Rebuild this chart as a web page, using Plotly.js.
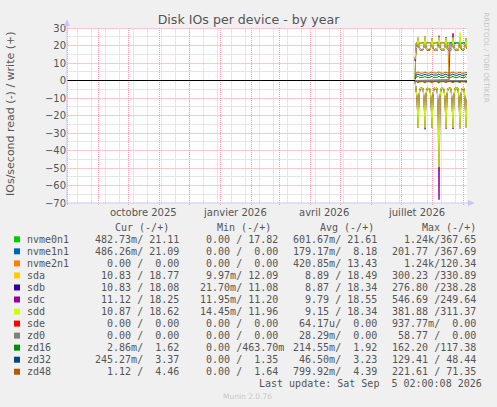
<!DOCTYPE html>
<html>
<head>
<meta charset="utf-8">
<script src="https://cdn.plot.ly/plotly-3.0.1.min.js"></script>
<style>
html, body { margin: 0; padding: 0; background: #f0f0f0; }
#chart { width: 497px; height: 407px; }
#chart .layer-below .shapelayer path, #chart .zerolinelayer path { shape-rendering: crispEdges; }
</style>
</head>
<body>
<div id="chart"></div>
<script>
// daily points, 15 juillet -> 5 septembre 2026
let days = ['2026-07-15','2026-07-16','2026-07-17','2026-07-18','2026-07-19','2026-07-20','2026-07-21','2026-07-22','2026-07-23','2026-07-24',
  '2026-07-25','2026-07-26','2026-07-27','2026-07-28','2026-07-29','2026-07-30','2026-07-31','2026-08-01','2026-08-02','2026-08-03',
  '2026-08-04','2026-08-05','2026-08-06','2026-08-07','2026-08-08','2026-08-09','2026-08-10','2026-08-11','2026-08-12','2026-08-13',
  '2026-08-14','2026-08-15','2026-08-16','2026-08-17','2026-08-18','2026-08-19','2026-08-20','2026-08-21','2026-08-22','2026-08-23',
  '2026-08-24','2026-08-25','2026-08-26','2026-08-27','2026-08-28','2026-08-29','2026-08-30','2026-08-31','2026-09-01','2026-09-02',
  '2026-09-03','2026-09-04','2026-09-05'];

// reads (drawn below zero) and writes (above zero), IOs/second
let nvme0n1R = [0.1,0.6,0.7,0.9,0.6,0.5,0.6,0.5,0.6,0.7, 0.9,0.6,0.5,0.6,0.5,0.6,0.7,0.8,0.6,0.5, 0.6,0.5,0.6,0.7,1.1,0.6,0.5,0.6,0.5,0.6, 0.7,0.9,0.6,0.5,0.6,0.5,0.6,0.7,0.8,0.6, 0.5,0.6,0.5,0.6,0.7,0.9,0.6,0.5,0.6,0.5, 0.7,0.8,0.5];
let nvme0n1W = [1.3,21.4,21.6,21.9,21.5,21.3,21.6,21.4,21.7,21.5, 21.8,21.6,21.3,21.5,21.7,21.4,21.6,21.9,21.5,21.3, 21.6,21.4,21.7,21.5,22.0,21.6,21.4,21.5,21.7,21.3, 21.6,21.8,21.5,21.4,21.6,21.5,21.7,21.4,21.8,21.6, 21.3,21.5,21.7,21.4,21.6,21.9,21.5,21.3,21.4,21.6, 21.5,21.8,21.1];
let nvme1n1R = [0,0,0,0,0,0,0,0,0,0, 0,0,0,0,0,0,0,0,0,0, 0,0,0,0,0,0,0,0,0,0, 0,0,0,0,0.1,0.5,0.4,0.5,0.6,0.5, 0.4,0.5,0.5,0.4,0.6,0.5,0.4,0.5,0.5,0.4, 0.5,0.6,0.5];
let nvme1n1W = [0,0,0,0,0,0,0,0,0,0, 0,0,0,0,0,0,0,0,0,0, 0,0,0,0,0,0,0,0,0,0, 0,0,0,0,0.4,21.3,21.6,21.2,21.5,21.4, 21.1,21.3,21.6,21.2,21.4,21.5,21.3,21.2,21.6,21.4, 21.3,21.5,21.1];
let nvme2n1R = [0.1,0.6,0.7,0.8,0.6,0.5,0.6,0.5,0.6,0.7, 0.8,0.6,0.5,0.6,0.5,0.6,0.7,0.8,0.6,0.5, 0.6,0.5,0.6,0.7,0.9,0.6,0.5,0.6,0.5,0.6, 0.7,0.8,0.6,0.5,0,0,0,0,0,0, 0,0,0,0,0,0,0,0,0,0, 0,0,0];
let nvme2n1W = [1.5,21.2,21.5,21.8,21.4,21.2,21.5,21.3,21.6,21.4, 21.7,21.5,21.2,21.4,21.6,21.3,21.5,21.8,21.4,21.2, 21.5,21.3,21.6,21.4,21.9,21.5,21.3,21.4,21.6,21.2, 21.5,21.7,21.4,21.3,0,0,0,0,0,0, 0,0,0,0,0,0,0,0,0,0, 0,0,0];
let sdaR = [0.5,4.6,10.2,26.5,8.4,4.7,4.3,4.8,4.5,10.7, 27.1,8.0,4.4,4.7,4.5,4.9,11.3,26.8,8.6,4.4, 4.6,4.8,4.3,12.5,46.2,9.3,4.7,4.5,4.4,4.9, 10.9,27.3,8.1,4.5,4.6,4.2,4.8,11.1,26.9,8.5, 4.3,4.6,4.7,4.4,10.6,27.2,8.2,4.5,4.8,4.4, 10.9,26.4,10.8];
let sdaW = [12.1,18.3,19.6,24.1,19.0,17.6,17.9,17.3,17.8,19.4, 24.6,18.7,17.5,17.8,17.2,17.9,19.8,23.9,18.5,17.4, 17.6,17.9,17.3,20.1,25.3,18.9,17.7,17.5,17.9,17.4, 19.7,24.4,18.6,17.6,17.3,17.8,17.5,19.9,24.8,18.8, 17.6,17.4,17.9,17.2,19.5,24.2,18.4,17.7,17.5,17.8, 19.6,24.0,18.8];
let sdbR = [0.3,4.4,9.8,25.9,8.1,4.5,4.2,4.6,4.3,10.3, 26.6,7.8,4.3,4.5,4.4,4.7,10.9,26.2,8.3,4.2, 4.5,4.6,4.2,12.1,44.8,9.0,4.5,4.4,4.3,4.7, 10.5,26.8,7.9,4.4,4.5,4.1,4.6,10.8,26.3,8.2, 4.2,4.4,4.5,4.3,10.2,26.7,8.0,4.4,4.6,4.3, 10.6,25.8,10.8];
let sdbW = [11.1,17.9,19.2,23.6,18.7,17.3,17.6,17.0,17.5,19.0, 24.0,18.4,17.2,17.5,16.9,17.6,19.4,23.5,18.2,17.1, 17.3,17.6,17.0,19.7,24.8,18.6,17.4,17.2,17.6,17.1, 19.3,23.9,18.3,17.3,17.0,17.5,17.2,19.5,24.3,18.5, 17.3,17.1,17.6,16.9,19.1,23.8,18.1,17.4,17.2,17.5, 19.2,23.6,18.1];
let sdcR = [0.4,4.8,10.5,26.9,8.6,4.9,4.5,5.0,4.7,11.0, 27.9,8.3,4.6,4.9,4.7,5.1,11.6,27.0,8.8,4.6, 4.8,5.0,4.5,13.4,68.1,9.7,4.9,4.7,4.6,5.1, 11.2,27.5,8.3,4.7,4.8,4.4,5.0,11.4,27.8,8.7, 4.5,4.8,4.9,4.6,10.9,27.4,8.4,4.7,5.0,4.6, 11.2,26.8,11.1];
let sdcW = [11.2,18.1,19.8,24.5,19.2,17.8,18.0,17.5,17.9,19.7, 25.1,18.9,17.7,18.0,17.4,18.1,20.0,24.3,18.7,17.6, 17.8,18.1,17.5,20.4,25.6,19.1,17.9,17.7,18.1,17.6, 19.9,24.7,18.8,17.8,17.5,18.0,17.7,20.3,27.0,19.0, 17.8,17.6,18.1,17.4,19.8,24.6,18.6,17.9,17.7,18.0, 19.8,24.3,18.3];
let sddR = [0.4,4.6,10.1,26.7,8.3,4.6,4.4,4.8,4.5,10.6, 27.0,8.1,4.4,4.6,4.5,4.8,11.2,26.9,8.5,4.4, 4.6,4.7,4.3,12.8,49.5,9.2,4.6,4.5,4.4,4.8, 10.8,27.1,8.0,4.5,4.6,4.2,4.7,11.0,27.0,8.4, 4.3,4.5,4.6,4.4,10.5,27.3,8.1,4.5,4.7,4.4, 10.8,26.6,10.9];
let sddW = [12.0,18.2,19.5,24.3,19.1,17.5,17.8,17.2,17.7,19.3, 24.8,18.6,17.4,17.7,17.1,17.8,19.6,24.1,18.4,17.3, 17.5,17.8,17.2,20.0,25.0,18.8,17.6,17.4,17.8,17.3, 19.6,24.3,18.5,17.5,17.2,17.7,17.4,19.8,24.6,18.7, 17.5,17.3,17.8,17.1,19.9,27.4,18.3,17.6,17.4,17.7, 19.5,24.1,18.6];
let sdeR = [0,0,0,0,0,0,0,0,0,0, 0,0,0,0,0,0,0,0,0,0, 0,0,0,0,0,0,0,0,0,0, 0,0,0,0,0,0,0,0,0,0, 0,0,0,0,0,0,0,0,0,0, 0,0,0];
let sdeW = sdeR;
let zd0R = sdeR;
let zd0W = sdeR;
let zd16R = [0.0,0.2,0.3,0.4,0.2,0.1,0.2,0.1,0.2,0.3, 0.4,0.2,0.1,0.2,0.1,0.2,0.3,0.4,0.2,0.1, 0.2,0.1,0.2,0.3,0.5,0.2,0.1,0.2,0.1,0.2, 0.3,0.4,0.2,0.1,0.2,0.1,0.2,0.3,0.4,0.2, 0.1,0.2,0.1,0.2,0.3,0.4,0.2,0.1,0.2,0.1, 0.3,0.4,0.0];
let zd16W = [0.5,1.9,2.1,2.4,1.8,1.7,1.9,1.6,1.8,2.0, 2.3,1.9,1.7,1.8,1.6,1.9,2.0,2.4,1.8,1.7, 1.9,1.6,1.8,2.1,2.5,1.9,1.7,1.8,1.6,1.9, 2.0,2.3,1.8,1.7,1.9,1.6,1.8,2.1,2.4,1.9, 1.7,1.8,1.6,1.9,2.0,2.3,1.8,1.7,1.9,1.6, 2.0,2.2,1.6];
let zd32R = [0,0,0.1,0.1,0,0,0,0,0,0.1, 0.1,0,0,0,0,0,0.1,0.1,0,0, 0,0,0,0.1,0.2,0,0,0,0,0, 0.1,0.1,0,0,0,0,0,0.1,0.1,0, 0,0,0,0,0.1,0.1,0,0,0,0, 0.1,0.1,0.2];
let zd32W = [0.8,3.1,3.4,3.7,3.2,3.0,3.2,2.9,3.1,3.3, 3.6,3.2,3.0,3.1,2.9,3.2,3.4,3.7,3.1,3.0, 3.2,2.9,3.1,3.4,3.8,3.2,3.0,3.1,2.9,3.2, 3.3,3.6,3.1,3.0,3.2,2.9,3.1,3.4,3.7,3.2, 3.0,3.1,2.9,3.2,3.3,3.6,3.1,3.0,3.2,2.9, 3.3,3.5,3.4];
let zd48R = [0.2,0.7,0.9,1.2,0.8,0.6,0.7,0.6,0.7,0.9, 1.3,0.8,0.6,0.7,0.6,0.7,0.9,1.2,0.8,0.6, 0.7,0.6,0.7,1.0,1.5,0.8,0.6,0.7,0.6,0.7, 0.9,1.2,0.8,0.6,0.7,0.6,0.7,0.9,1.3,0.8, 0.6,0.7,0.6,0.7,0.9,1.2,0.8,0.6,0.7,0.6, 0.9,1.2,1.1];
let zd48W = [1.1,4.3,4.6,4.9,4.4,4.2,4.4,4.1,4.3,4.5, 4.8,4.4,4.2,4.3,4.1,4.4,4.6,4.9,4.3,4.2, 4.4,4.1,4.3,4.6,5.0,4.4,4.2,4.3,4.1,4.4, 4.5,4.8,4.3,4.2,4.4,4.1,4.3,4.6,4.9,4.4, 4.2,4.3,4.1,4.4,4.5,4.8,4.3,4.2,4.4,4.1, 4.5,4.7,4.5];

let names = ['nvme0n1','nvme1n1','nvme2n1','sda','sdb','sdc','sdd','sde','zd0','zd16','zd32','zd48'];
let colors = ['#00cc00','#0066b3','#ff8000','#ffcc00','#330099','#990099','#ccff00','#ff0000','#808080','#008f00','#00487d','#b35a00'];
let reads = [nvme0n1R, nvme1n1R, nvme2n1R, sdaR, sdbR, sdcR, sddR, sdeR, zd0R, zd16R, zd32R, zd48R];
let writes = [nvme0n1W, nvme1n1W, nvme2n1W, sdaW, sdbW, sdcW, sddW, sdeW, zd0W, zd16W, zd32W, zd48W];

// legend table (Cur / Min / Avg / Max, read/write)
let curText = ['482.73m/ 21.11 ','486.26m/ 21.09 ','  0.00 /  0.00 ',' 10.83 / 18.77 ',' 10.83 / 18.08 ',' 11.12 / 18.25 ',' 10.87 / 18.62 ','  0.00 /  0.00 ','  0.00 /  0.00 ','  2.86m/  1.62 ','245.27m/  3.37 ','  1.12 /  4.46 '];
let minText = ['  0.00 / 17.82 ','  0.00 /  0.00 ','  0.00 /  0.00 ','  9.97m/ 12.09 ',' 21.70m/ 11.08 ',' 11.95m/ 11.20 ',' 14.45m/ 11.96 ','  0.00 /  0.00 ','  0.00 /  0.00 ','  0.00 /463.70m','  0.00 /  1.35 ','  0.00 /  1.64 '];
let avgText = ['601.67m/ 21.61 ','179.17m/  8.18 ','420.85m/ 13.43 ','  8.89 / 18.49 ','  8.87 / 18.34 ','  9.79 / 18.55 ','  9.15 / 18.34 ',' 64.17u/  0.00 ',' 28.29m/  0.00 ','214.55m/  1.92 ',' 46.50m/  3.23 ','799.92m/  4.39 '];
let maxText = ['  1.24k/367.65 ','201.77 /367.69 ','  1.24k/120.34 ','300.23 /330.89 ','276.80 /238.28 ','546.69 /249.64 ','381.88 /311.37 ','937.77m/  0.00 ',' 58.77 /  0.00 ','162.20 /117.38 ','129.41 / 48.44 ','221.61 / 71.35 '];
let headers = ['Cur (-/+)', 'Min (-/+)', 'Avg (-/+)', 'Max (-/+)'];
let monthLabels = ['octobre 2025', 'janvier 2026', 'avril 2026', 'juillet 2026'];
let monthLabelAt = ['2025-10-16', '2026-01-16', '2026-04-15', '2026-07-16'];

// pixel helpers (plot area 67..467 x 28..203)
const L = 67, R = 467, T = 28, B = 203;
function px(x) { return (x - L) / (R - L); }
function py(y) { return (B - y) / (B - T); }
function nb(s) { return s.replace(/ /g, '\u00a0'); }

let traces = [];
for (let i = 0; i < names.length; i++) {
    traces.push({
        type: 'scatter', mode: 'lines', name: names[i] + ' read',
        x: days, y: reads[i].map(v => -v),
        line: { color: colors[i], width: 1 }, showlegend: false
    });
}
for (let i = 0; i < names.length; i++) {
    traces.push({
        type: 'scatter', mode: 'lines', name: names[i] + ' write',
        x: days, y: writes[i],
        line: { color: colors[i], width: 1 }, showlegend: false
    });
}

let gray = '#555555';
let mono = { family: 'DejaVu Sans Mono', size: 10, color: gray };
let annotations = [];
let shapes = [];

// grid: red major, grey minor (light solid lines stand in for rrdtool dots)
let majorGrid = '#f0a0a0', majorSoft = '#f6caca', minorSoft = '#e6e6e6';
for (let v = -65; v <= 25; v += 10) {
    shapes.push({ type: 'line', layer: 'below', xref: 'paper', yref: 'y', x0: 0, x1: 1, y0: v, y1: v, line: { color: minorSoft, width: 1 } });
}
let d = new Date(Date.UTC(2025, 7, 11));
while (d < new Date(Date.UTC(2026, 8, 5))) {
    let s = d.toISOString().slice(0, 10);
    shapes.push({ type: 'line', layer: 'below', xref: 'x', yref: 'paper', x0: s, x1: s, y0: 0, y1: 1, line: { color: minorSoft, width: 1 } });
    d = new Date(d.getTime() + 14 * 86400000);
}
for (let v = -60; v <= 30; v += 10) {
    if (v === 0) continue;
    shapes.push({ type: 'line', layer: 'below', xref: 'paper', yref: 'y', x0: 0, x1: 1, y0: v, y1: v, line: { color: majorSoft, width: 1 } });
}
for (let m = 0; m < 14; m++) {
    let s = new Date(Date.UTC(2025, 7 + m, 1)).toISOString().slice(0, 10);
    shapes.push({ type: 'line', layer: 'below', xref: 'x', yref: 'paper', x0: s, x1: s, y0: -0.012, y1: 1, line: { color: majorGrid, width: 1, dash: '1px,1px' } });
}

// y axis title
annotations.push({
    xref: 'paper', yref: 'paper', x: px(10), y: py(114), text: 'IOs/second read (-) / write (+)',
    textangle: -90, showarrow: false, xanchor: 'center', yanchor: 'middle',
    font: { family: 'DejaVu Sans', size: 11, color: gray }
});
// month labels
for (let i = 0; i < monthLabels.length; i++) {
    annotations.push({
        xref: 'x', yref: 'paper', x: monthLabelAt[i], y: py(212), text: monthLabels[i],
        showarrow: false, xanchor: 'center', yanchor: 'middle',
        font: { family: 'DejaVu Sans', size: 10, color: gray }
    });
}
// side watermark
annotations.push({
    xref: 'paper', yref: 'paper', x: px(486), y: py(57.5), text: 'RRDTOOL / TOBI OETIKER',
    textangle: 90, showarrow: false, xanchor: 'center', yanchor: 'middle',
    font: { family: 'DejaVu Sans', size: 7, color: '#c4c4c4' }
});
annotations.push({
    xref: 'paper', yref: 'paper', x: px(247.5), y: py(396), text: 'Munin 2.0.76',
    showarrow: false, xanchor: 'center', yanchor: 'middle',
    font: { family: 'DejaVu Sans', size: 7.5, color: '#c8c8c8' }
});

// legend table
let headerRight = [169.8, 272.2, 374.5, 477.2];
let colRight = [185.5, 284.8, 383.8, 483.2];
for (let c = 0; c < headers.length; c++) {
    annotations.push({
        xref: 'paper', yref: 'paper', x: px(headerRight[c]), y: py(227.7), text: nb(headers[c]),
        showarrow: false, xanchor: 'right', yanchor: 'middle', borderpad: 0, font: mono
    });
}
let cols = [curText, minText, avgText, maxText];
for (let r = 0; r < names.length; r++) {
    let rowY = 239.3 + r * 12.04;
    shapes.push({
        type: 'rect', xref: 'paper', yref: 'paper',
        x0: px(14), x1: px(20), y0: py(rowY + 3), y1: py(rowY - 3),
        fillcolor: colors[r], line: { width: 0 }
    });
    annotations.push({
        xref: 'paper', yref: 'paper', x: px(26), y: py(rowY), text: names[r],
        showarrow: false, xanchor: 'left', yanchor: 'middle', borderpad: 0, font: mono
    });
    for (let c = 0; c < cols.length; c++) {
        annotations.push({
            xref: 'paper', yref: 'paper', x: px(colRight[c]), y: py(rowY), text: nb(cols[c][r]),
            showarrow: false, xanchor: 'right', yanchor: 'middle', borderpad: 0, font: mono
        });
    }
}
annotations.push({
    xref: 'paper', yref: 'paper', x: px(483.2), y: py(383.7), text: nb('Last update: Sat Sep  5 02:00:08 2026'),
    showarrow: false, xanchor: 'right', yanchor: 'middle', borderpad: 0, font: mono
});

// axis lines with arrow heads
let axisColor = '#c8c8f8';
shapes.push({ type: 'line', xref: 'paper', yref: 'paper', x0: px(67), x1: px(67), y0: py(204), y1: py(24), line: { color: axisColor, width: 1 } });
shapes.push({ type: 'line', xref: 'paper', yref: 'paper', x0: px(64), x1: px(470), y0: py(203), y1: py(203), line: { color: axisColor, width: 1 } });
shapes.push({
    type: 'path', xref: 'paper', yref: 'paper',
    path: 'M' + px(67) + ',' + py(19) + ' L' + px(64) + ',' + py(26) + ' L' + px(70) + ',' + py(26) + ' Z',
    fillcolor: axisColor, line: { width: 0 }
});
shapes.push({
    type: 'path', xref: 'paper', yref: 'paper',
    path: 'M' + px(475) + ',' + py(203) + ' L' + px(468) + ',' + py(200) + ' L' + px(468) + ',' + py(206) + ' Z',
    fillcolor: axisColor, line: { width: 0 }
});

let layout = {
    width: 497, height: 407,
    margin: { l: L, r: 497 - R, t: T, b: 407 - B, pad: 0 },
    paper_bgcolor: '#f0f0f0', plot_bgcolor: '#ffffff',
    font: { family: 'DejaVu Sans', color: gray },
    title: {
        text: 'Disk IOs per device - by year',
        xref: 'container', yref: 'container', x: 0.5, y: 1 - 19.5 / 407,
        xanchor: 'center', yanchor: 'middle',
        font: { family: 'DejaVu Sans', size: 12.6, color: gray }
    },
    showlegend: false,
    hovermode: false,
    xaxis: {
        type: 'date',
        range: ['2025-07-31 12:00', '2026-09-05'],
        showticklabels: false, ticks: '',
        showgrid: false, zeroline: false, showline: false
    },
    yaxis: {
        range: [-70, 30], tick0: 0, dtick: 10,
        tickfont: { family: 'DejaVu Sans', size: 10, color: gray },
        showgrid: false,
        zeroline: true, zerolinecolor: '#000000', zerolinewidth: 1,
        showline: false
    },
    annotations: annotations,
    shapes: shapes
};

Plotly.newPlot(document.getElementById('chart'), traces, layout, { displayModeBar: false });
</script>
</body>
</html>
